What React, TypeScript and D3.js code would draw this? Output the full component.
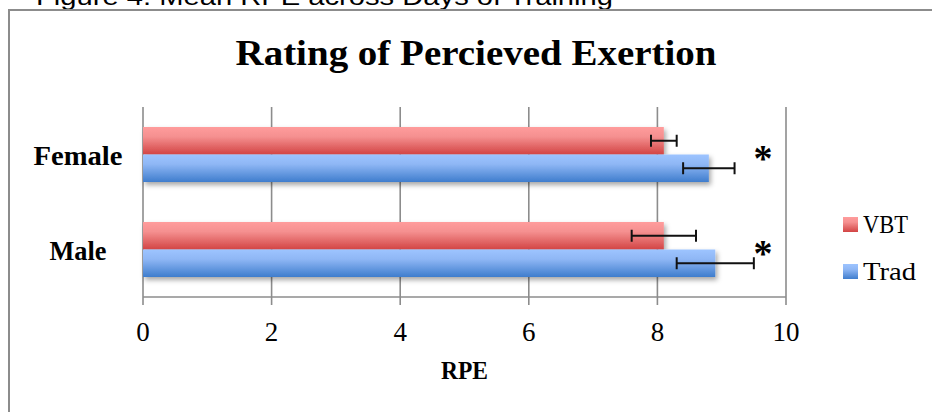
import React from "react";
import * as d3 from "d3";

const categories = ["Female", "Male"];
const categoryLabelWidths = [89, 57];
const seriesNames = ["VBT", "Trad"];
const legendLabelWidths = [45, 53];
const vbtValues = [8.1, 8.1];
const tradValues = [8.8, 8.9];
const vbtErrors = [0.2, 0.5];
const tradErrors = [0.4, 0.6];
const significant = [true, true];
const xTicks = [0, 2, 4, 6, 8, 10];

const W = 932;
const H = 412;
const serif = "'Liberation Serif', 'DejaVu Serif', serif";

export default function App() {
  const x = d3.scaleLinear().domain([0, 10]).range([143, 786]);
  const y = d3.scaleBand<string>().domain(categories).range([107, 297]).paddingInner(0).paddingOuter(0);
  const barH = 27.5;
  const gridColor = "#8c8c8c";

  const series = [
    { name: seriesNames[0], values: vbtValues, errors: vbtErrors, grad: "gVBT", offset: -barH },
    { name: seriesNames[1], values: tradValues, errors: tradErrors, grad: "gTrad", offset: 0 },
  ];

  return (
    <svg width={W} height={H} style={{ display: "block", position: "absolute", left: 0, top: 0 }}>
      <defs>
        <linearGradient id="gVBT" x1="0" y1="0" x2="0" y2="1">
          <stop offset="0" stopColor="#ff9c9c" />
          <stop offset="0.35" stopColor="#f59090" />
          <stop offset="1" stopColor="#d24444" />
        </linearGradient>
        <linearGradient id="gTrad" x1="0" y1="0" x2="0" y2="1">
          <stop offset="0" stopColor="#9dc4ff" />
          <stop offset="0.35" stopColor="#8fb7f5" />
          <stop offset="1" stopColor="#3f7dcd" />
        </linearGradient>
        <filter id="shadow" x="-5%" y="-20%" width="115%" height="160%">
          <feDropShadow dx="2" dy="3" stdDeviation="2.5" floodColor="#000" floodOpacity="0.35" />
        </filter>
      </defs>
      <rect x={0} y={0} width={W} height={H} fill="#fff" />

      <text x={36} y={5} fontFamily="'Liberation Sans', Arial, sans-serif" fontSize={24} textLength={577} lengthAdjust="spacingAndGlyphs" fill="#000">
        Figure 4: Mean RPE across Days of Training
      </text>

      {/* outer frame */}
      <path d={`M9,${H} V10 H${W}`} fill="none" stroke={gridColor} strokeWidth={2} />

      <text x={476} y={65} textAnchor="middle" fontFamily={serif} fontWeight="bold" fontSize={35} textLength={481} lengthAdjust="spacingAndGlyphs" fill="#000">
        Rating of Percieved Exertion
      </text>

      {/* gridlines */}
      {xTicks.map((t) => (
        <line key={t} x1={x(t)} x2={x(t)} y1={107} y2={305} stroke={gridColor} strokeWidth={1.6} />
      ))}
      <line x1={x(0)} x2={x(10)} y1={297} y2={297} stroke={gridColor} strokeWidth={1.6} />

      {/* bars */}
      <g filter="url(#shadow)">
        {categories.map((c, i) =>
          series.map((s) => {
            const cy = (y(c) as number) + y.bandwidth() / 2;
            return (
              <rect key={c + s.name} x={x(0)} y={cy + s.offset} width={x(s.values[i]) - x(0)} height={barH} fill={`url(#${s.grad})`} />
            );
          })
        )}
      </g>

      {/* error bars */}
      {categories.map((c, i) =>
        series.map((s) => {
          const cy = (y(c) as number) + y.bandwidth() / 2 + s.offset + barH / 2;
          const lo = x(s.values[i] - s.errors[i]);
          const hi = x(s.values[i] + s.errors[i]);
          return (
            <g key={"e" + c + s.name} stroke="#111" strokeWidth={2}>
              <line x1={lo} x2={hi} y1={cy} y2={cy} />
              <line x1={lo} x2={lo} y1={cy - 6} y2={cy + 6} />
              <line x1={hi} x2={hi} y1={cy - 6} y2={cy + 6} />
            </g>
          );
        })
      )}

      {/* significance */}
      {categories.map((c, i) =>
        significant[i] ? (
          <text key={"s" + c} x={763} y={(y(c) as number) + y.bandwidth() / 2 + 16} textAnchor="middle" fontFamily={serif} fontWeight="bold" fontSize={38} fill="#000">
            *
          </text>
        ) : null
      )}

      {/* category labels */}
      {categories.map((c, i) => (
        <text key={"l" + c} x={78} y={(y(c) as number) + y.bandwidth() / 2 + 10} textAnchor="middle" fontFamily={serif} fontWeight="bold" fontSize={27} textLength={categoryLabelWidths[i]} lengthAdjust="spacingAndGlyphs" fill="#000">
          {c}
        </text>
      ))}

      {/* tick labels */}
      {xTicks.map((t) => (
        <text key={"t" + t} x={x(t)} y={341} textAnchor="middle" fontFamily={serif} fontSize={27} fill="#000">
          {t}
        </text>
      ))}

      <text x={464.5} y={379} textAnchor="middle" fontFamily={serif} fontWeight="bold" fontSize={25} textLength={47} lengthAdjust="spacingAndGlyphs" fill="#000">
        RPE
      </text>

      {/* legend */}
      {series.map((s, i) => (
        <g key={"lg" + s.name} transform={`translate(843, ${217 + i * 47})`}>
          <rect x={0} y={0} width={15} height={15} fill={`url(#${s.grad})`} />
          <text x={20} y={16} fontFamily={serif} fontSize={25} textLength={legendLabelWidths[i]} lengthAdjust="spacingAndGlyphs" fill="#000">
            {s.name}
          </text>
        </g>
      ))}
    </svg>
  );
}
